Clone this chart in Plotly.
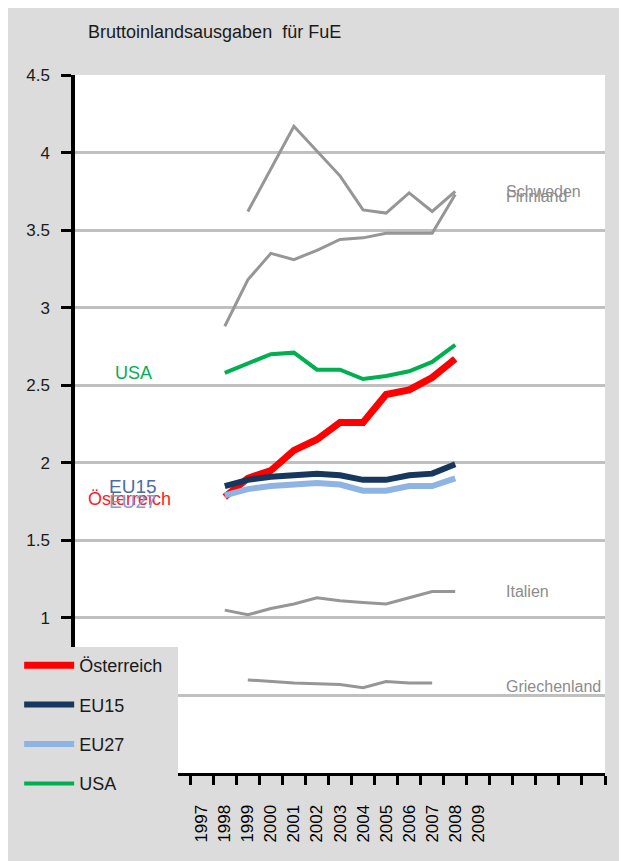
import plotly.graph_objects as go

years = list(range(1998, 2009))
oesterreich = [1.78, 1.90, 1.95, 2.08, 2.15, 2.26, 2.26, 2.44, 2.47, 2.55, 2.67]
eu15 = [1.85, 1.89, 1.91, 1.92, 1.93, 1.92, 1.89, 1.89, 1.92, 1.93, 1.99]
eu27 = [1.79, 1.83, 1.85, 1.86, 1.87, 1.86, 1.82, 1.82, 1.85, 1.85, 1.90]
usa = [2.58, 2.64, 2.70, 2.71, 2.60, 2.60, 2.54, 2.56, 2.59, 2.65, 2.76]
schweden = [None, 3.62, None, 4.17, None, 3.85, 3.63, 3.61, 3.74, 3.62, 3.75]
finnland = [2.88, 3.18, 3.35, 3.31, 3.37, 3.44, 3.45, 3.48, 3.48, 3.48, 3.73]
italien = [1.05, 1.02, 1.06, 1.09, 1.13, 1.11, 1.10, 1.09, 1.13, 1.17, 1.17]
griechenland = [None, 0.60, None, 0.58, None, 0.57, 0.55, 0.59, 0.58, 0.58, None]

x_tick_labels = ["1997", "1998", "1999", "2000", "2001", "2002", "2003",
                 "2004", "2005", "2006", "2007", "2008", "2009"]
x_tick_vals = list(range(1997, 2010))
y_tick_vals = [1, 1.5, 2, 2.5, 3, 3.5, 4, 4.5]
y_tick_labels = ["1", "1.5", "2", "2.5", "3", "3.5", "4", "4.5"]

FONT = "Liberation Sans Narrow, Arial Narrow, Liberation Sans, Arial, sans-serif"
BG = "#dcdcdc"
GRAY = "#969696"
LABEL_GRAY = "#8c8c8c"
TXT = "#1a1a1a"
PAD = "\u00a0\u00a0"  # invisible padding so the legend box is as wide as the original

fig = go.Figure()

for name, vals in [("Schweden", schweden), ("Finnland", finnland),
                   ("Italien", italien), ("Griechenland", griechenland)]:
    fig.add_trace(go.Scatter(x=years, y=vals, mode="lines", name=name,
                             line=dict(color=GRAY, width=3),
                             connectgaps=True, showlegend=False))

main = [("Österreich", oesterreich, "#ff0000", 7),
        ("EU15", eu15, "#17375e", 6),
        ("EU27", eu27, "#8eb4e3", 6),
        ("USA", usa, "#00b050", 4)]
for name, vals, col, w in main:
    fig.add_trace(go.Scatter(x=years, y=vals, mode="lines", name=name + PAD,
                             legendgroup=name,
                             line=dict(color=col, width=w)))

# series labels
fig.add_annotation(x=1994.05, y=usa[0], text="USA", showarrow=False,
                   font=dict(family=FONT, size=18, color="#00b050"))
fig.add_annotation(x=1993.85, y=oesterreich[0], yshift=-2, text="Österreich", showarrow=False,
                   font=dict(family=FONT, size=18, color="#ff2020"))
fig.add_annotation(x=1994.0, y=eu27[0], yshift=-6, text="EU27", showarrow=False,
                   font=dict(family=FONT, size=19, color="#7e9fd6"))
fig.add_annotation(x=1994.0, y=eu15[0], text="EU15", showarrow=False,
                   font=dict(family=FONT, size=19, color="#4a6da8"))
right_x = 2010.1
for name, vals, ys in [("Schweden", schweden, 0), ("Finnland", finnland, -2),
                       ("Italien", italien, 0), ("Griechenland", griechenland, -3)]:
    last = [v for v in vals if v is not None][-1]
    fig.add_annotation(x=right_x, y=last, yshift=ys, text=name, showarrow=False,
                       xanchor="left",
                       font=dict(family=FONT, size=16, color=LABEL_GRAY))

fig.update_layout(
    width=627, height=861,
    margin=dict(l=67, r=30, t=67, b=96, autoexpand=False),
    paper_bgcolor=BG, plot_bgcolor="white",
    font=dict(family=FONT, size=17, color=TXT),
    title=dict(text="Bruttoinlandsausgaben  für FuE", x=(80-67)/530, xref="paper",
               xanchor="left", y=1-24/861, yanchor="middle",
               font=dict(family=FONT, size=18, color=TXT)),
    showlegend=True,
    legend=dict(x=-0.128 + 12/530, y=(765-639)/698, xanchor="left", yanchor="top",
                bgcolor=BG, borderwidth=0, tracegroupgap=13,
                font=dict(family=FONT, size=18, color=TXT),
                itemwidth=50),
    xaxis=dict(range=[1991.5, 2014.5], tickmode="array", tickvals=x_tick_vals,
               ticktext=x_tick_labels, tickangle=-90, showgrid=False, zeroline=False,
               showline=True, linecolor="black", linewidth=3,
               ticks="outside", ticklen=22, tickcolor="rgba(0,0,0,0)",
               tickfont=dict(family=FONT, size=17, color="#000000"),
               minor=dict(tickmode="array",
                          tickvals=[1991.5 + i for i in range(24)],
                          ticks="outside", ticklen=9, tickwidth=3,
                          tickcolor="black", showgrid=False)),
    yaxis=dict(range=[0, 4.5], tickmode="array", tickvals=y_tick_vals,
               ticktext=y_tick_labels, showgrid=True, gridcolor="#c0c0c0",
               gridwidth=3, zeroline=False, showline=True, linecolor="black",
               linewidth=3.5, ticks="outside", ticklen=10, tickwidth=3,
               tickcolor="black", ticklabelstandoff=8,
               tickfont=dict(family=FONT, size=17, color=TXT)),
)
fig.update_yaxes(minor=dict(tickvals=[0.5], ticks="", showgrid=True,
                            gridcolor="#c0c0c0", gridwidth=3, tickmode="array"))

fig.write_html("out.html")
